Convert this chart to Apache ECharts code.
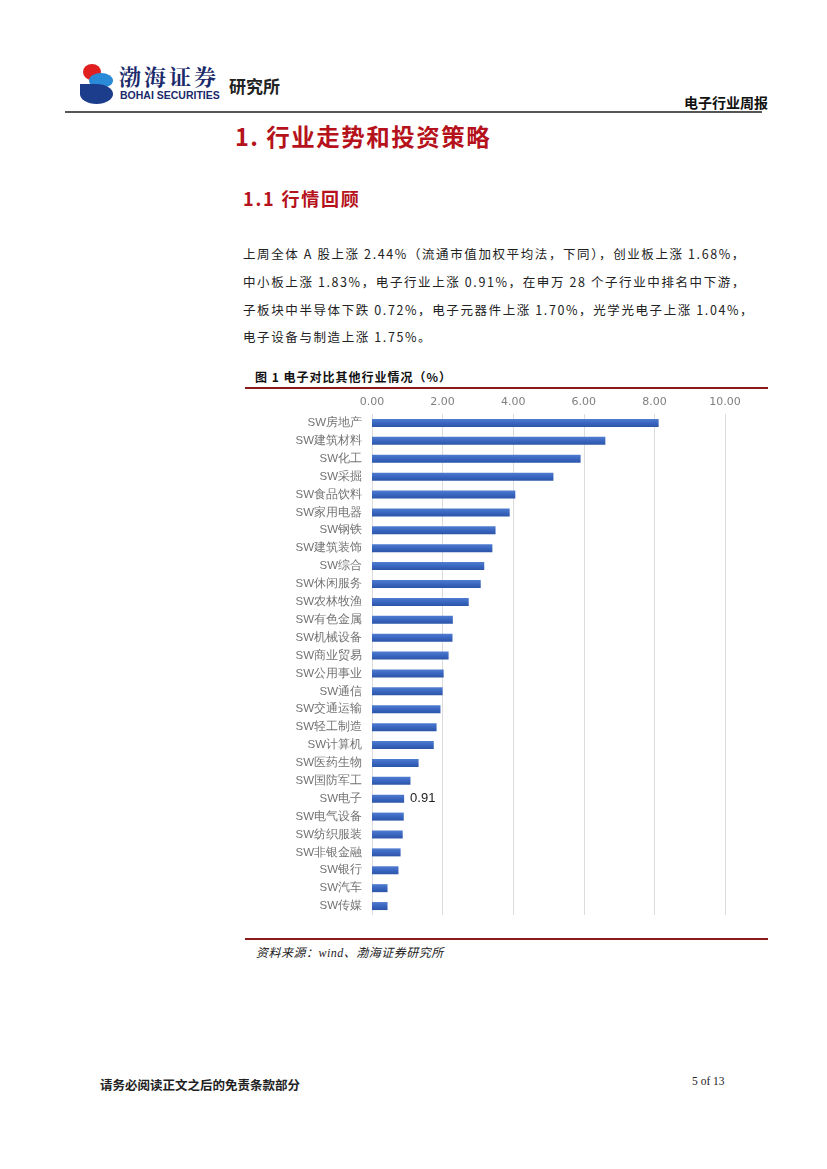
<!DOCTYPE html>
<html>
<head>
<meta charset="utf-8">
<script src="https://cdn.jsdelivr.net/npm/echarts@6/dist/echarts.min.js"></script>
<style>
  html,body{margin:0;padding:0;background:#fff;}
  body{width:827px;height:1169px;position:relative;overflow:hidden;font-family:"Noto Sans CJK SC","Noto Sans",sans-serif;color:#222;}
  .abs{position:absolute;white-space:nowrap;}
  #chart{position:absolute;left:240px;top:391px;width:530px;height:545px;}
</style>
</head>
<body>
<!-- header logo -->
<div class="abs" style="left:80px;top:64px;width:36px;height:42px;">
  <div style="position:absolute;left:3px;top:0;width:18px;height:16px;border-radius:50%;background:#e02020;"></div>
  <div style="position:absolute;left:9px;top:9px;width:24px;height:15px;border-radius:50%;background:#2a8ad8;"></div>
  <div style="position:absolute;left:0px;top:20px;width:33px;height:20px;border-radius:0 50% 50% 50%;background:#1c3c8c;"></div>
</div>
<div class="abs" style="left:119px;top:61px;font-family:'Noto Serif CJK SC','Noto Sans CJK SC',serif;font-size:22px;font-weight:bold;color:#1a2a6a;letter-spacing:3px;line-height:30px;">渤海证券</div>
<div class="abs" style="left:120px;top:89px;font-family:'Liberation Sans',Arial,sans-serif;font-size:10.5px;font-weight:bold;color:#1a2a6a;">BOHAI SECURITIES</div>
<div class="abs" style="left:229px;top:73px;font-size:17px;font-weight:bold;color:#222;">研究所</div>
<div class="abs" style="left:684px;top:92px;font-size:14px;font-weight:bold;color:#111;">电子行业周报</div>
<div class="abs" style="left:65px;top:111px;width:697px;height:2px;background:#555;"></div>

<!-- titles -->
<div class="abs" style="left:235px;top:119px;font-size:23.5px;font-weight:bold;color:#b5121b;letter-spacing:1.5px;">1. 行业走势和投资策略</div>
<div class="abs" style="left:243px;top:185px;font-size:18px;font-weight:bold;color:#b5121b;letter-spacing:1.8px;">1.1 行情回顾</div>

<!-- paragraph -->
<div class="abs" style="left:243px;top:240px;font-size:12.5px;line-height:27.8px;color:#222;letter-spacing:1.6px;">
上周全体 A 股上涨 2.44%（流通市值加权平均法，下同），创业板上涨 1.68%，<br>
中小板上涨 1.83%，电子行业上涨 0.91%，在申万 28 个子行业中排名中下游，<br>
子板块中半导体下跌 0.72%，电子元器件上涨 1.70%，光学光电子上涨 1.04%，<br>
电子设备与制造上涨 1.75%。
</div>

<!-- figure title -->
<div class="abs" style="left:255px;top:368px;font-size:12px;font-weight:bold;color:#111;letter-spacing:1px;">图 1 电子对比其他行业情况（%）</div>
<div class="abs" style="left:245px;top:387px;width:523px;height:2px;background:#8b1a1a;"></div>

<div id="chart"></div>

<div class="abs" style="left:245px;top:938px;width:523px;height:2px;background:#8b1a1a;"></div>
<div class="abs" style="left:256px;top:943px;font-size:12px;font-style:italic;color:#222;font-family:'Liberation Serif','Noto Sans CJK SC',serif;letter-spacing:0.5px;">资料来源：wind、渤海证券研究所</div>

<!-- footer -->
<div class="abs" style="left:100px;top:1075px;font-size:12.5px;font-weight:bold;color:#222;">请务必阅读正文之后的免责条款部分</div>
<div class="abs" style="left:692px;top:1075px;font-size:11.5px;color:#222;font-family:'Liberation Serif',serif;">5 of 13</div>

<script>
const categories = ["SW房地产","SW建筑材料","SW化工","SW采掘","SW食品饮料","SW家用电器","SW钢铁","SW建筑装饰","SW综合","SW休闲服务","SW农林牧渔","SW有色金属","SW机械设备","SW商业贸易","SW公用事业","SW通信","SW交通运输","SW轻工制造","SW计算机","SW医药生物","SW国防军工","SW电子","SW电气设备","SW纺织服装","SW非银金融","SW银行","SW汽车","SW传媒"];
const values = [8.12,6.61,5.91,5.14,4.06,3.90,3.50,3.41,3.18,3.08,2.74,2.29,2.28,2.17,2.03,2.00,1.94,1.83,1.75,1.32,1.09,0.91,0.90,0.87,0.81,0.75,0.44,0.44];
const xTicks = [0,2,4,6,8,10];
const highlight = "SW电子";

const chart = echarts.init(document.getElementById('chart'));
chart.setOption({
  animation:false,
  grid:{left:132,right:45,top:23,bottom:21},
  xAxis:{
    type:'value', position:'top', min:xTicks[0], max:xTicks[xTicks.length-1], interval:2,
    axisLine:{show:false}, axisTick:{show:false},
    axisLabel:{color:'#7f7f7f',fontSize:11,margin:6,formatter:v=>v.toFixed(2),fontFamily:'DejaVu Sans'},
    splitLine:{lineStyle:{color:'#dcdcdc',width:1}}
  },
  yAxis:{
    type:'category', data:categories, inverse:true,
    axisLine:{show:false}, axisTick:{show:false},
    axisLabel:{color:'#737373',fontSize:11.5,margin:10}
  },
  series:[{
    type:'bar', barWidth:8,
    data:values.map((v,i)=>({value:v,label:{show:categories[i]===highlight}})),
    itemStyle:{color:new echarts.graphic.LinearGradient(0,0,0,1,[{offset:0,color:'#4f7dd0'},{offset:0.5,color:'#3a66c0'},{offset:1,color:'#2c55a8'}])},
    label:{position:'right',distance:6,color:'#222',fontSize:13,formatter:p=>p.value.toFixed(2)}
  }]
});
</script>
</body>
</html>
